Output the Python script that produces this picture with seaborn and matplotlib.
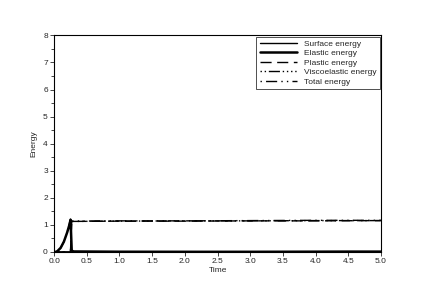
import matplotlib
matplotlib.use("Agg")
import matplotlib.pyplot as plt
import seaborn as sns
import pandas as pd
from matplotlib.ticker import MultipleLocator

# values
surface_t = [0.0, 0.25, 0.3, 1.0, 2.0, 3.0, 3.5, 4.0, 4.5, 5.0]
surface_e = [0.0, 0.0, 0.01, 0.01, 0.01, 0.015, 0.02, 0.025, 0.03, 0.03]

elastic_t = [0.0, 0.02, 0.05, 0.1, 0.15, 0.2, 0.24, 0.25, 0.26, 0.27, 0.3, 1.0, 5.0]
elastic_e = [0.0, 0.0, 0.03, 0.15, 0.38, 0.72, 1.05, 1.18, 0.7, 0.05, 0.02, 0.01, 0.0]

plastic_t = [0.0, 0.25, 0.26, 0.27, 0.3, 1.0, 2.0, 3.0, 4.0, 5.0]
plastic_e = [0.0, 0.0, 0.5, 1.12, 1.13, 1.14, 1.14, 1.15, 1.15, 1.16]

visco_t = [0.0, 0.25, 0.26, 0.27, 0.3, 1.0, 2.0, 3.0, 4.0, 5.0]
visco_e = [0.0, 0.0, 0.5, 1.12, 1.13, 1.14, 1.15, 1.15, 1.16, 1.16]

total_t = [0.0, 0.02, 0.05, 0.1, 0.15, 0.2, 0.25, 0.26, 0.27, 0.3, 1.0, 2.0, 3.0, 4.0, 5.0]
total_e = [0.0, 0.0, 0.03, 0.15, 0.38, 0.72, 1.22, 1.2, 1.15, 1.14, 1.15, 1.15, 1.16, 1.17, 1.17]

names = ["Surface energy", "Elastic energy", "Plastic energy",
         "Viscoelastic energy", "Total energy"]
series = [(surface_t, surface_e), (elastic_t, elastic_e), (plastic_t, plastic_e),
          (visco_t, visco_e), (total_t, total_e)]

frames = []
for name, (t, e) in zip(names, series):
    frames.append(pd.DataFrame({"Time": t, "Energy": e, "series": name}))
df = pd.concat(frames, ignore_index=True)

sns.set_style("ticks")
plt.rcParams["font.family"] = ["Liberation Sans", "DejaVu Sans"]

fig = plt.figure(figsize=(4.36, 2.88), dpi=100)
ax = fig.add_axes([0.124, 0.125, 0.750, 0.752])

dashes = {
    "Surface energy": "",
    "Elastic energy": "",
    "Plastic energy": (8, 4),
    "Viscoelastic energy": (1, 2, 1, 2, 8, 2, 1, 2, 1, 2),
    "Total energy": (1, 3, 8, 3, 1, 3),
}
widths = {"Surface energy": 1.0, "Elastic energy": 1.8, "Plastic energy": 1.0,
          "Viscoelastic energy": 1.0, "Total energy": 1.0}

for name in names:
    sub = df[df["series"] == name]
    sns.lineplot(data=sub, x="Time", y="Energy", ax=ax, color="black",
                 lw=widths[name], label=name, sort=False)
    if dashes[name]:
        ax.lines[-1].set_dashes(dashes[name])

ax.set_xlim(0, 5)
ax.set_ylim(0, 8)
ax.xaxis.set_major_locator(MultipleLocator(0.5))
ax.yaxis.set_major_locator(MultipleLocator(1))
ax.yaxis.set_minor_locator(MultipleLocator(0.5))
ax.xaxis.set_major_formatter(matplotlib.ticker.FormatStrFormatter("%.1f"))
ax.tick_params(axis="both", labelsize=6, length=3, width=0.6, pad=1.5)
ax.tick_params(axis="y", which="minor", length=2, width=0.6)
for s in ax.spines.values():
    s.set_linewidth(0.8)
    s.set_color("black")
ax.set_xlabel("Time", fontsize=6, labelpad=1)
ax.set_ylabel("Energy", fontsize=6, labelpad=4)

leg = ax.legend(loc="upper right", fontsize=6, frameon=True, fancybox=False,
                handlelength=4.5, borderaxespad=0.15, labelspacing=0.2,
                borderpad=0.4)
leg.get_frame().set_edgecolor("black")
leg.get_frame().set_linewidth(0.6)

fig.savefig("out.png", dpi=100)
